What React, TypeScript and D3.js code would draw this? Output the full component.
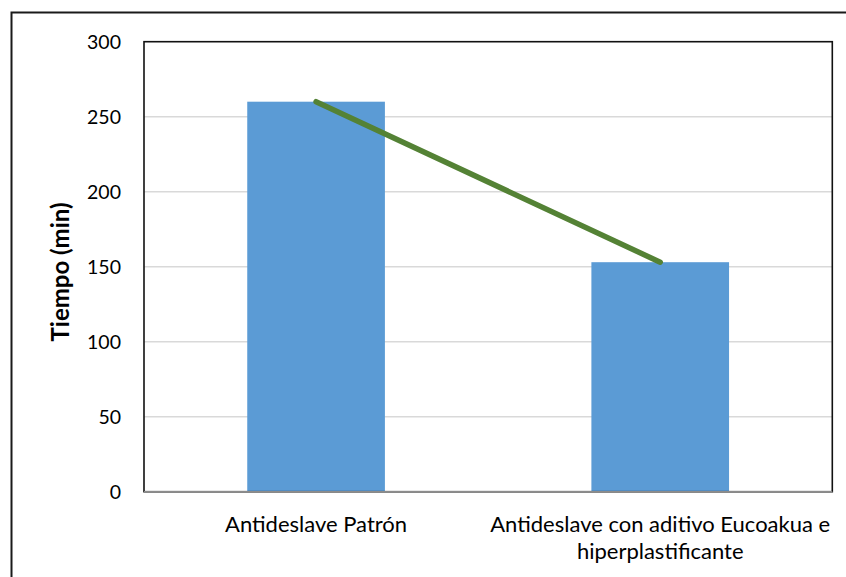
import React from "react";
import * as d3 from "d3";

// Tiempo por tipo de antideslave
const categories = ["Antideslave Patrón", "Antideslave con aditivo Eucoakua e hiperplastificante"];
const categoryLines = [["Antideslave Patrón"], ["Antideslave con aditivo Eucoakua e", "hiperplastificante"]];
const tiempos = [260, 153];
const yTicks = [0, 50, 100, 150, 200, 250, 300];
const yTitle = "Tiempo (min)";

const W = 846;
const H = 577;
const plot = { left: 144, top: 41.7, right: 832.3, bottom: 491.7 };
const FONT = "Lato, 'Open Sans', sans-serif";

export default function App() {
  const x = d3
    .scaleBand<string>()
    .domain(categories)
    .range([plot.left, plot.right])
    .paddingInner(0.6)
    .paddingOuter(0.3);
  const y = d3.scaleLinear().domain([0, 300]).range([plot.bottom, plot.top]);

  const line = d3
    .line<number>()
    .x((_, i) => (x(categories[i]) as number) + x.bandwidth() / 2)
    .y((d) => y(d));

  return (
    <svg
      width={W}
      height={H}
      style={{ position: "absolute", left: 0, top: 0, background: "#fff" }}
    >
      {/* chart frame */}
      <path d={`M11.5,${H + 5} L11.5,12.5 L${W + 5},12.5`} fill="none" stroke="#1a1a1a" strokeWidth={2} />

      {/* gridlines */}
      {yTicks.slice(1, -1).map((t) => (
        <line key={t} x1={plot.left} x2={plot.right} y1={y(t)} y2={y(t)} stroke="#d9d9d9" strokeWidth={1.5} />
      ))}

      {/* bars */}
      {tiempos.map((v, i) => (
        <rect
          key={i}
          x={x(categories[i])}
          y={y(v)}
          width={x.bandwidth()}
          height={y(0) - y(v)}
          fill="#5b9bd5"
        />
      ))}

      {/* plot border */}
      <rect
        x={plot.left}
        y={plot.top}
        width={plot.right - plot.left}
        height={plot.bottom - plot.top}
        fill="none"
        stroke="#111"
        strokeWidth={1.6}
      />
      <line x1={plot.left} x2={plot.right} y1={y(0)} y2={y(0)} stroke="#8c8c8c" strokeWidth={1.5} />

      {/* trend line */}
      <path d={line(tiempos) ?? ""} fill="none" stroke="#548235" strokeWidth={5.5} strokeLinecap="round" />

      {/* y ticks */}
      {yTicks.map((t) => (
        <text
          key={t}
          x={121}
          y={y(t)}
          textAnchor="end"
          dominantBaseline="central"
          fontFamily={FONT}
          fontSize={19.5}
          fill="#000"
        >
          {t}
        </text>
      ))}

      {/* category labels */}
      {categoryLines.map((lines, i) => (
        <text
          key={i}
          x={(x(categories[i]) as number) + x.bandwidth() / 2}
          y={532}
          textAnchor="middle"
          fontFamily={FONT}
          fontSize={22}
          fill="#000"
        >
          {lines.map((l, j) => (
            <tspan key={j} x={(x(categories[i]) as number) + x.bandwidth() / 2} dy={j === 0 ? 0 : 27}>
              {l}
            </tspan>
          ))}
        </text>
      ))}

      {/* y title */}
      <text
        transform={`translate(69,272) rotate(-90)`}
        textAnchor="middle"
        fontFamily={FONT}
        fontWeight="bold"
        fontSize={24}
        fill="#000"
      >
        {yTitle}
      </text>
    </svg>
  );
}
